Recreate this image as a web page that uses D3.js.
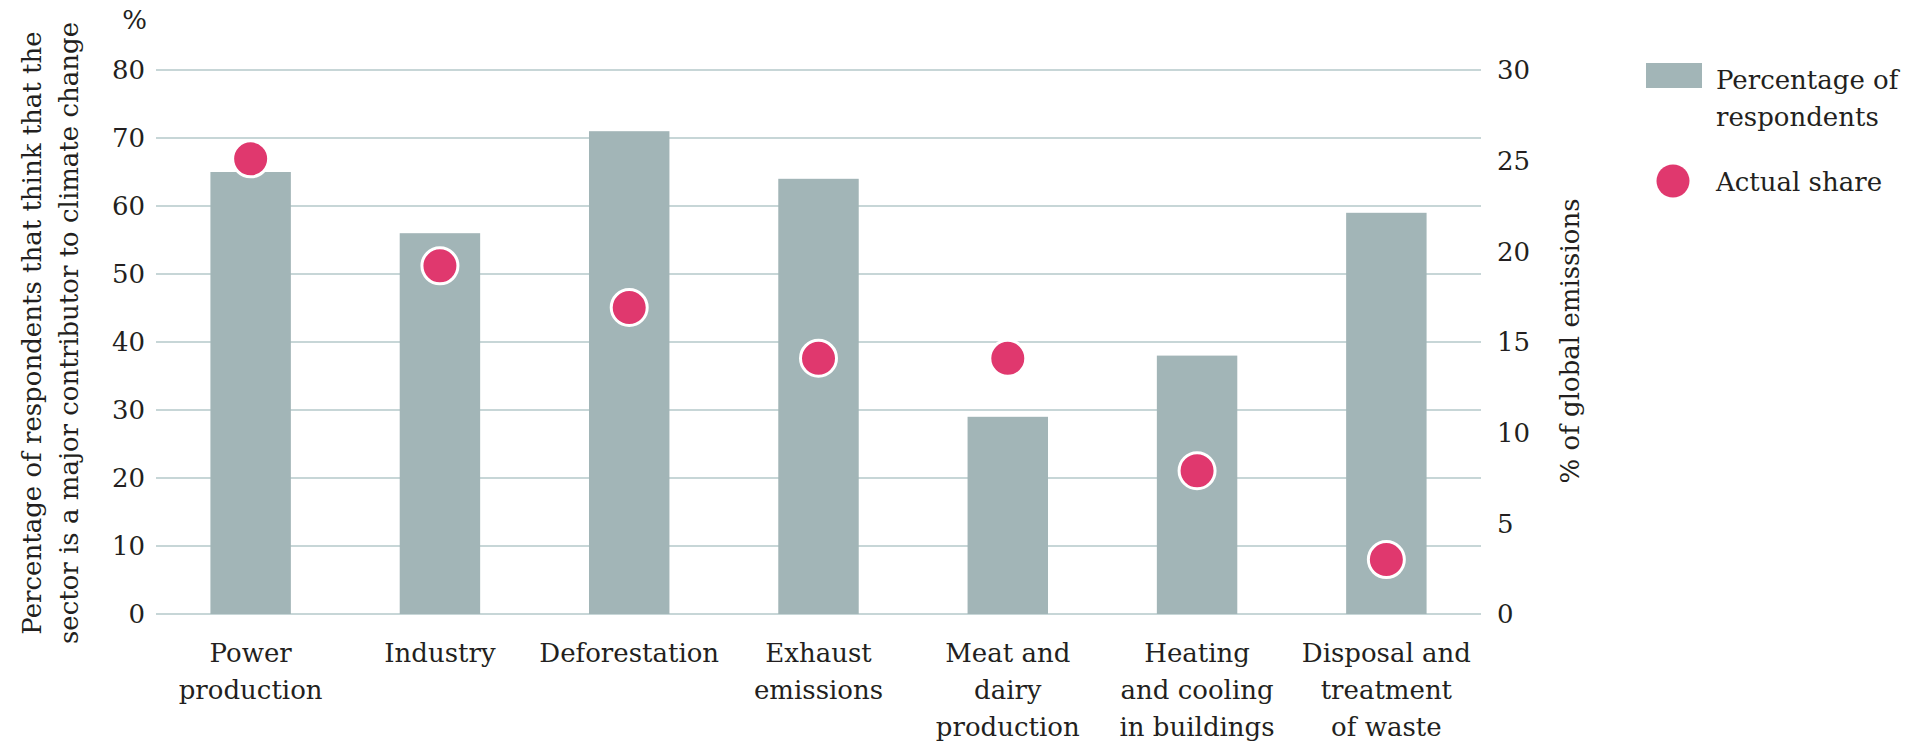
<!DOCTYPE html>
<html>
<head>
<meta charset="utf-8">
<script src="https://cdn.jsdelivr.net/npm/d3@7"></script>
<style>
  html, body { margin: 0; padding: 0; background: #ffffff; }
  svg { display: block; }
  text { font-family: "DejaVu Serif", serif; fill: #231f20; }
</style>
</head>
<body>
<svg id="chart" width="1916" height="747"></svg>
<script>
// Sectors and their multi-line labels
const categories = [
  "Power production", "Industry", "Deforestation", "Exhaust emissions",
  "Meat and dairy production", "Heating and cooling in buildings",
  "Disposal and treatment of waste"
];
const categoryLines = [
  ["Power", "production"],
  ["Industry"],
  ["Deforestation"],
  ["Exhaust", "emissions"],
  ["Meat and", "dairy", "production"],
  ["Heating", "and cooling", "in buildings"],
  ["Disposal and", "treatment", "of waste"]
];
// Share of respondents naming the sector as a major contributor (%)
const respondents = [65, 56, 71, 64, 29, 38, 59];
// Actual share of global emissions (%)
const actualShare = [25.1, 19.2, 16.9, 14.1, 14.1, 7.9, 3.0];
const leftTicks = [0, 10, 20, 30, 40, 50, 60, 70, 80];
const rightTicks = [0, 5, 10, 15, 20, 25, 30];

const svg = d3.select("#chart");
const plot = { left: 156, right: 1481, top: 70, bottom: 614 };
const fontSize = 26;

const x = d3.scaleBand()
  .domain(categories)
  .range([plot.left, plot.right])
  .paddingInner(0.575)
  .paddingOuter(0.2875);
const yLeft = d3.scaleLinear().domain([0, 80]).range([plot.bottom, plot.top]);
const yRight = d3.scaleLinear().domain([0, 30]).range([plot.bottom, plot.top]);

// Horizontal gridlines on the left-axis ticks
svg.append("g")
  .selectAll("line")
  .data(leftTicks)
  .join("line")
  .attr("x1", plot.left).attr("x2", plot.right)
  .attr("y1", d => yLeft(d)).attr("y2", d => yLeft(d))
  .attr("stroke", "#b5c8ca").attr("stroke-width", 1.6);

// Left axis tick labels
svg.append("g")
  .selectAll("text")
  .data(leftTicks)
  .join("text")
  .attr("x", 145).attr("y", d => yLeft(d)).attr("dy", "0.36em")
  .attr("text-anchor", "end").attr("font-size", fontSize)
  .text(d => d);

svg.append("text")
  .attr("x", 147).attr("y", 29)
  .attr("text-anchor", "end").attr("font-size", fontSize)
  .text("%");

// Right axis tick labels
svg.append("g")
  .selectAll("text")
  .data(rightTicks)
  .join("text")
  .attr("x", 1497).attr("y", d => yRight(d)).attr("dy", "0.36em")
  .attr("text-anchor", "start").attr("font-size", fontSize)
  .text(d => d);

// Axis titles
const leftTitle = svg.append("text")
  .attr("transform", "translate(0,333) rotate(-90)")
  .attr("text-anchor", "middle").attr("font-size", fontSize);
leftTitle.append("tspan").attr("x", 0).attr("y", 41)
  .text("Percentage of respondents that think that the");
leftTitle.append("tspan").attr("x", 0).attr("y", 78)
  .text("sector is a major contributor to climate change");

svg.append("text")
  .attr("transform", "translate(1579,341) rotate(-90)")
  .attr("text-anchor", "middle").attr("font-size", fontSize)
  .text("% of global emissions");

// Bars
svg.append("g")
  .selectAll("rect")
  .data(categories)
  .join("rect")
  .attr("x", d => x(d))
  .attr("width", x.bandwidth())
  .attr("y", (d, i) => yLeft(respondents[i]))
  .attr("height", (d, i) => yLeft(0) - yLeft(respondents[i]))
  .attr("fill", "#a2b5b7");

// Dots for actual share
svg.append("g")
  .selectAll("circle")
  .data(categories)
  .join("circle")
  .attr("cx", d => x(d) + x.bandwidth() / 2)
  .attr("cy", (d, i) => yRight(actualShare[i]))
  .attr("r", 18)
  .attr("fill", "#e0386e")
  .attr("stroke", "#ffffff").attr("stroke-width", 3);

// Category labels
const xl = svg.append("g")
  .selectAll("text")
  .data(categories)
  .join("text")
  .attr("text-anchor", "middle").attr("font-size", fontSize);
xl.each(function (d, i) {
  const t = d3.select(this);
  categoryLines[i].forEach((line, k) => {
    t.append("tspan")
      .attr("x", x(d) + x.bandwidth() / 2)
      .attr("y", 662 + k * 37)
      .text(line);
  });
});

// Legend
const legend = svg.append("g");
legend.append("rect")
  .attr("x", 1646).attr("y", 63).attr("width", 56).attr("height", 25)
  .attr("fill", "#a2b5b7");
const lt = legend.append("text").attr("font-size", fontSize);
lt.append("tspan").attr("x", 1716).attr("y", 89).text("Percentage of");
lt.append("tspan").attr("x", 1716).attr("y", 126).text("respondents");
legend.append("circle")
  .attr("cx", 1673).attr("cy", 181).attr("r", 16.5)
  .attr("fill", "#e0386e");
legend.append("text")
  .attr("x", 1716).attr("y", 191).attr("font-size", fontSize)
  .text("Actual share");
</script>
</body>
</html>
